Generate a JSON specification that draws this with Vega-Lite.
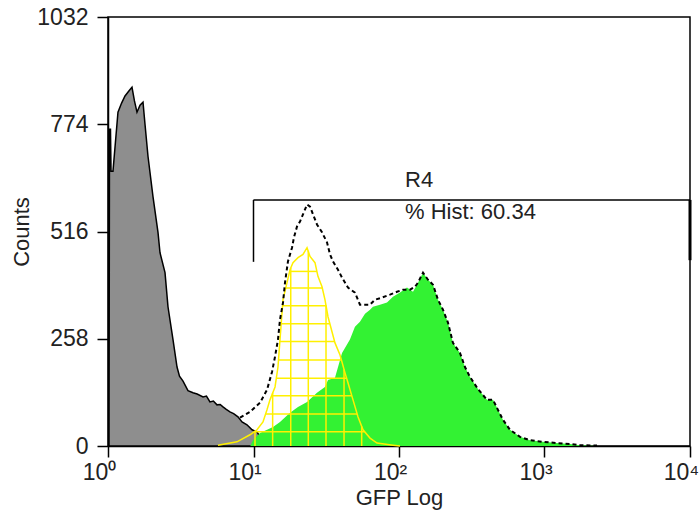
{
  "$schema": "https://vega.github.io/schema/vega-lite/v6.json",
  "width": 582,
  "height": 429,
  "autosize": {"type": "none"},
  "padding": {"left": 108, "top": 17, "right": 10, "bottom": 67},
  "background": "white",
  "config": {
    "view": {"stroke": "black", "strokeWidth": 1.5},
    "font": "Liberation Sans",
    "axis": {
      "domainColor": "black", "domainWidth": 1.5, "tickColor": "black", "tickWidth": 1.5, "tickSize": 11,
      "grid": false, "labelFont": "Liberation Sans", "labelFontSize": 23, "labelColor": "#222",
      "titleFont": "Liberation Sans", "titleFontSize": 22, "titleFontWeight": "normal", "titleColor": "#222",
      "labelFlush": false, "labelOverlap": false
    }
  },
  "datasets": {
    "gray": [
      {"v":1.016,"c":0},{"v":1.024,"c":762},{"v":1.040,"c":762},{"v":1.049,"c":661},{"v":1.082,"c":661},{"v":1.171,"c":803},{"v":1.24,"c":825},{"v":1.309,"c":842},{"v":1.40,"c":855},{"v":1.462,"c":863},{"v":1.52,"c":830},{"v":1.582,"c":803},{"v":1.66,"c":820},{"v":1.740,"c":827},{"v":1.796,"c":774},{"v":1.883,"c":697},{"v":2.038,"c":600},{"v":2.206,"c":514},{"v":2.277,"c":465},{"v":2.465,"c":417},{"v":2.584,"c":335},{"v":2.797,"c":256},{"v":2.981,"c":190},{"v":3.1,"c":168},{"v":3.278,"c":156},{"v":3.546,"c":133},{"v":3.84,"c":128},{"v":4.1,"c":125},{"v":4.5,"c":118},{"v":4.75,"c":120},{"v":5.02,"c":106},{"v":5.3,"c":108},{"v":5.61,"c":99},{"v":5.9,"c":100},{"v":6.17,"c":94},{"v":6.5,"c":88},{"v":6.89,"c":82},{"v":7.3,"c":78},{"v":7.82,"c":70},{"v":8.34,"c":58},{"v":9.02,"c":51},{"v":9.77,"c":39},{"v":10.57,"c":34},{"v":11.44,"c":14},{"v":12.58,"c":0}
    ],
    "green": [
      {"v":9.5,"c":0},{"v":9.92,"c":14},{"v":11.08,"c":31},{"v":13.62,"c":46},{"v":15.21,"c":58},{"v":17.82,"c":80},{"v":20.22,"c":94},{"v":23.33,"c":106},{"v":27.31,"c":128},{"v":30.98,"c":142},{"v":32.51,"c":159},{"v":36.31,"c":164},{"v":39.33,"c":207},{"v":40.6,"c":224},{"v":46.0,"c":256},{"v":49.8,"c":287},{"v":53.9,"c":299},{"v":58.4,"c":318},{"v":63.2,"c":328},{"v":66.2,"c":335},{"v":74.0,"c":340},{"v":82.7,"c":345},{"v":90.9,"c":359},{"v":101.6,"c":369},{"v":113.5,"c":381},{"v":124.8,"c":371},{"v":135.1,"c":393},{"v":146.2,"c":417},{"v":158.2,"c":400},{"v":171.3,"c":388},{"v":185.3,"c":352},{"v":200.5,"c":328},{"v":217.0,"c":297},{"v":234.9,"c":248},{"v":262.5,"c":224},{"v":284.1,"c":190},{"v":307.6,"c":166},{"v":349.1,"c":137},{"v":402.5,"c":111},{"v":442.8,"c":111},{"v":478.8,"c":87},{"v":518.2,"c":63},{"v":579.3,"c":39},{"v":678.7,"c":22},{"v":794.5,"c":14},{"v":976.1,"c":10},{"v":1219,"c":7},{"v":1497,"c":5},{"v":1754,"c":2},{"v":2295,"c":0}
    ],
    "yellow": [
      {"v":5.70,"c":2},{"v":7.70,"c":10},{"v":9.46,"c":27},{"v":10.57,"c":39},{"v":11.62,"c":58},{"v":12.38,"c":87},{"v":12.98,"c":111},{"v":14.06,"c":142},{"v":14.73,"c":190},{"v":15.21,"c":256},{"v":15.95,"c":352},{"v":17.00,"c":393},{"v":17.82,"c":424},{"v":18.68,"c":441},{"v":20.22,"c":453},{"v":21.88,"c":461},{"v":23.33,"c":477},{"v":24.46,"c":456},{"v":26.46,"c":441},{"v":27.74,"c":408},{"v":29.57,"c":383},{"v":30.98,"c":352},{"v":32.51,"c":311},{"v":36.31,"c":248},{"v":39.33,"c":219},{"v":42.55,"c":176},{"v":44.6,"c":152},{"v":48.3,"c":111},{"v":52.3,"c":70},{"v":56.6,"c":39},{"v":63.2,"c":19},{"v":70.6,"c":7},{"v":90.9,"c":2},{"v":101.6,"c":0}
    ],
    "total": [
      {"v":8.08,"c":68},{"v":9.46,"c":82},{"v":11.08,"c":104},{"v":12.38,"c":135},{"v":13.40,"c":178},{"v":14.06,"c":215},{"v":14.73,"c":256},{"v":15.21,"c":304},{"v":15.95,"c":345},{"v":16.46,"c":393},{"v":17.25,"c":444},{"v":18.39,"c":477},{"v":18.98,"c":502},{"v":19.91,"c":528},{"v":20.88,"c":540},{"v":21.88,"c":557},{"v":23.33,"c":581},{"v":24.46,"c":576},{"v":25.64,"c":557},{"v":27.31,"c":533},{"v":29.57,"c":514},{"v":32.0,"c":490},{"v":33.56,"c":461},{"v":35.18,"c":444},{"v":38.08,"c":424},{"v":40.6,"c":405},{"v":44.6,"c":381},{"v":49.8,"c":369},{"v":53.9,"c":340},{"v":63.2,"c":340},{"v":68.4,"c":352},{"v":76.4,"c":357},{"v":86.7,"c":364},{"v":96.9,"c":371},{"v":106.5,"c":376},{"v":119.0,"c":376},{"v":128.8,"c":383},{"v":135.1,"c":393},{"v":146.2,"c":417},{"v":158.2,"c":400},{"v":171.3,"c":388},{"v":185.3,"c":352},{"v":200.5,"c":328},{"v":217.0,"c":297},{"v":234.9,"c":248},{"v":262.5,"c":224},{"v":284.1,"c":190},{"v":307.6,"c":166},{"v":349.1,"c":137},{"v":402.5,"c":111},{"v":442.8,"c":111},{"v":478.8,"c":87},{"v":518.2,"c":63},{"v":579.3,"c":39},{"v":678.7,"c":22},{"v":794.5,"c":14},{"v":976.1,"c":10},{"v":1219,"c":7},{"v":1497,"c":5},{"v":1754,"c":2},{"v":2295,"c":1}
    ],
    "hatchV": [
      {"v":10.24,"c":36,"c2":0},{"v":13.54,"c":128,"c2":0},{"v":18.03,"c":428,"c2":0},{"v":23.8,"c":470,"c2":0},{"v":31.5,"c":338,"c2":0},{"v":41.9,"c":184,"c2":0},{"v":55.4,"c":47,"c2":0}
    ],
    "hatchH": [
      {"c":420,"v":17.7,"v2":27.3},{"c":380,"v":16.6,"v2":29.8},{"c":337.6,"v":15.85,"v2":31.6},{"c":294,"v":15.55,"v2":33.5},{"c":251.5,"v":15.18,"v2":36.1},{"c":207,"v":14.85,"v2":40.2},{"c":163,"v":14.35,"v2":43.6},{"c":121,"v":13.31,"v2":47.4},{"c":77,"v":12.11,"v2":51.5},{"c":34.5,"v":10.15,"v2":58.0}
    ],
    "gate": [
      {"v":10,"v2":10000,"c":592,"c2":592},{"v":10,"v2":10,"c":592,"c2":443}
    ],
    "gateEnd": [
      {"v":10000,"v2":10000,"c":592,"c2":447}
    ],
    "labels": [
      {"v":110,"c":623,"t":"R4"},{"v":110,"c":546,"t":"% Hist: 60.34"}
    ]
  },
  "encoding": {
    "x": {
      "field": "v", "type": "quantitative",
      "scale": {"type": "log", "domain": [1, 10000], "nice": false},
      "axis": {
        "values": [1, 10, 100, 1000, 10000],
        "labelExpr": "datum.value == 1 ? '10⁰' : datum.value == 10 ? '10¹' : datum.value == 100 ? '10²' : datum.value == 1000 ? '10³' : '10⁴'",
        "labelPadding": 4, "labelOffset": -9, "title": "GFP Log", "titlePadding": 3
      }
    },
    "y": {
      "field": "c", "type": "quantitative",
      "scale": {"domain": [0, 1032], "nice": false},
      "axis": {"values": [0, 258, 516, 774, 1032], "format": "d", "labelPadding": 9, "title": "Counts", "titlePadding": 3}
    }
  },
  "layer": [
    {"data": {"name": "gray"}, "mark": {"type": "area", "color": "#8e8e8e", "stroke": "black", "strokeWidth": 1.5}},
    {"data": {"name": "green"}, "mark": {"type": "area", "color": "#33f233"}},
    {"data": {"name": "hatchV"}, "mark": {"type": "rule", "color": "#fff000", "strokeWidth": 1.5}, "encoding": {"y2": {"field": "c2"}}},
    {"data": {"name": "hatchH"}, "mark": {"type": "rule", "color": "#fff000", "strokeWidth": 1.5}, "encoding": {"x2": {"field": "v2"}}},
    {"data": {"name": "yellow"}, "mark": {"type": "line", "color": "#fff000", "strokeWidth": 1.5}},
    {"data": {"name": "total"}, "mark": {"type": "line", "color": "black", "strokeWidth": 2, "strokeDash": [4, 3]}},
    {"data": {"name": "gate"}, "mark": {"type": "rule", "color": "black", "strokeWidth": 1.5}, "encoding": {"x2": {"field": "v2"}, "y2": {"field": "c2"}}},
    {"data": {"name": "gateEnd"}, "mark": {"type": "rule", "color": "black", "strokeWidth": 3}, "encoding": {"x2": {"field": "v2"}, "y2": {"field": "c2"}}},
    {"data": {"name": "labels"}, "mark": {"type": "text", "align": "left", "baseline": "alphabetic", "font": "Liberation Sans", "fontSize": 22, "color": "#222"}, "encoding": {"text": {"field": "t"}}}
  ]
}
